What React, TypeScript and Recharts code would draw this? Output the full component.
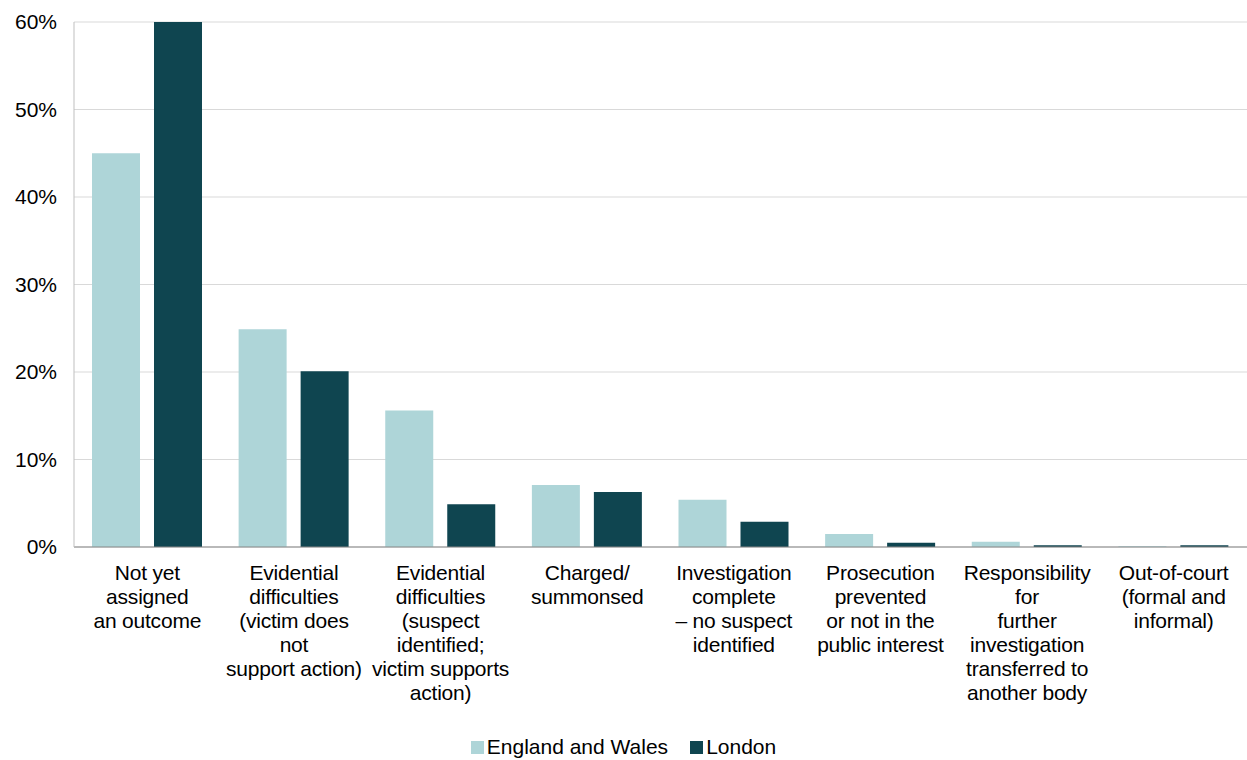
import { BarChart, Bar, XAxis, YAxis, CartesianGrid, Legend } from 'recharts';

const outcomes = [
  'Not yet\nassigned\nan outcome',
  'Evidential\ndifficulties\n(victim does\nnot\nsupport action)',
  'Evidential\ndifficulties\n(suspect\nidentified;\nvictim supports\naction)',
  'Charged/\nsummonsed',
  'Investigation\ncomplete\n– no suspect\nidentified',
  'Prosecution\nprevented\nor not in the\npublic interest',
  'Responsibility\nfor\nfurther\ninvestigation\ntransferred to\nanother body',
  'Out-of-court\n(formal and\ninformal)',
];
const englandWales = [45, 24.9, 15.6, 7.1, 5.4, 1.5, 0.6, 0.1];
const london = [60, 20.1, 4.9, 6.3, 2.9, 0.5, 0.2, 0.2];
const yTicks = [0, 10, 20, 30, 40, 50, 60];

const data = outcomes.map((name, i) => ({
  name,
  ew: englandWales[i],
  london: london[i],
}));

const FONT = '"Liberation Sans", Arial, sans-serif';

function OutcomeTick({ x, y, payload }: any) {
  const lines = String(payload.value).split('\n');
  return (
    <text x={x} y={y} textAnchor="middle" fontFamily={FONT} fontSize={21} fill="#000" letterSpacing={-0.2}>
      {lines.map((line, i) => (
        <tspan key={i} x={x} dy={i === 0 ? 25 : 24}>
          {line}
        </tspan>
      ))}
    </text>
  );
}

function ChartLegend() {
  const items = [
    { label: 'England and Wales', color: '#aed5d8' },
    { label: 'London', color: '#0f4550' },
  ];
  return (
    <div
      style={{
        display: 'flex',
        justifyContent: 'center',
        gap: 22,
        fontFamily: FONT,
        fontSize: 21,
        lineHeight: '24px',
        paddingTop: 3,
      }}
    >
      {items.map((it) => (
        <div key={it.label} style={{ display: 'flex', alignItems: 'center', gap: 3 }}>
          <span style={{ width: 13, height: 13, background: it.color, display: 'inline-block' }} />
          <span>{it.label}</span>
        </div>
      ))}
    </div>
  );
}

export default function App() {
  return (
    <div style={{ width: 1247, height: 760, background: '#fff', overflow: 'hidden' }}>
      <style>{`body{margin:0}`}</style>
      <BarChart
        width={1247}
        height={760}
        data={data}
        margin={{ top: 22, right: 0, bottom: 0, left: 0 }}
        barSize={48}
        barGap={14}
      >
        <CartesianGrid vertical={false} stroke="#d9d9d9" />
        <XAxis
          dataKey="name"
          interval={0}
          height={185}
          tickLine={false}
          axisLine={{ stroke: '#868686' }}
          tick={<OutcomeTick />}
        />
        <YAxis
          width={74}
          domain={[0, 60]}
          ticks={yTicks}
          allowDataOverflow
          tickFormatter={(v: number) => `${v}%`}
          tickLine={false}
          tickSize={0}
          tickMargin={17}
          axisLine={{ stroke: '#bfbfbf' }}
          tick={{ fill: '#000', fontSize: 21, fontFamily: FONT }}
        />
        <Legend verticalAlign="bottom" height={28} content={<ChartLegend />} />
        <Bar dataKey="ew" name="England and Wales" fill="#aed5d8" isAnimationActive={false} />
        <Bar dataKey="london" name="London" fill="#0f4550" isAnimationActive={false} />
      </BarChart>
    </div>
  );
}
